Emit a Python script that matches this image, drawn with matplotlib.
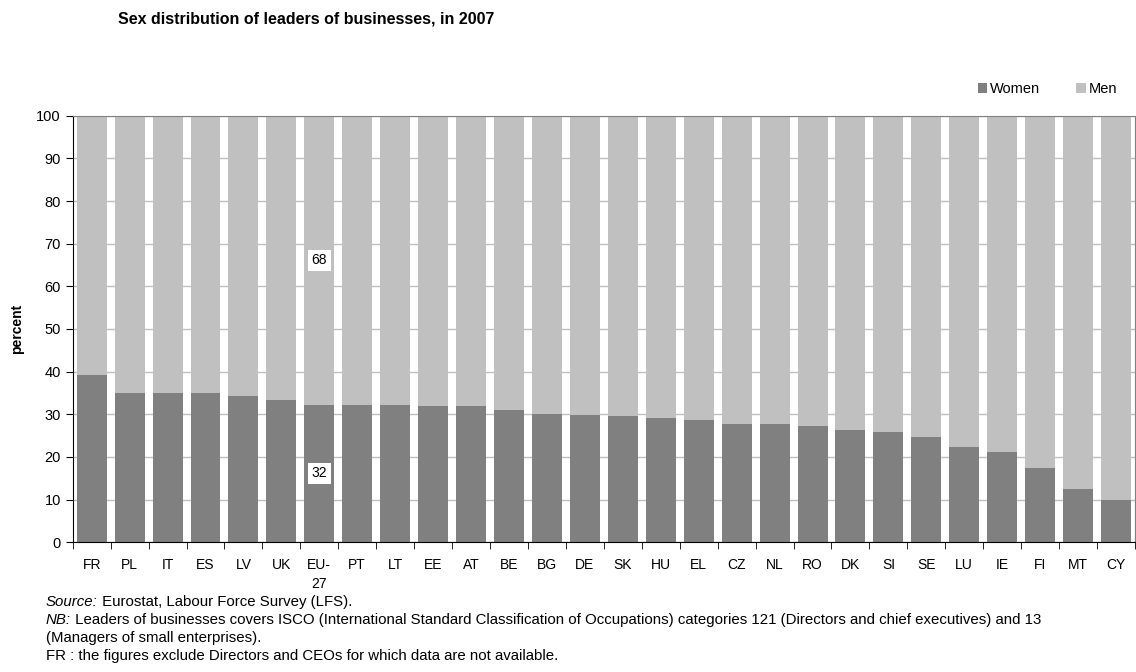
## Sex distribution of leaders of businesses, 2007
import matplotlib.pyplot as plt
import numpy as np

countries = ['FR', 'PL', 'IT', 'ES', 'LV', 'UK', 'EU-\n27', 'PT', 'LT', 'EE', 'AT', 'BE', 'BG', 'DE',
             'SK', 'HU', 'EL', 'CZ', 'NL', 'RO', 'DK', 'SI', 'SE', 'LU', 'IE', 'FI', 'MT', 'CY']
women = [39.1, 35.0, 35.0, 35.0, 34.3, 33.3, 32.3, 32.1, 32.1, 31.9, 31.9, 31.0, 30.0, 29.8,
         29.6, 29.1, 28.6, 27.7, 27.7, 27.2, 26.3, 25.8, 24.7, 22.3, 21.1, 17.4, 12.5, 9.9]
men = [100 - w for w in women]

plt.rcParams['font.family'] = ['Liberation Sans', 'DejaVu Sans']

W, H = 1136, 672
fig = plt.figure(figsize=(W / 100, H / 100), dpi=100)
ax = fig.add_axes([72.7 / W, 1 - 542.3 / H, (1135 - 72.7) / W, (542.3 - 115.7) / H])

x = np.arange(len(countries))
ax.bar(x, women, width=0.79, color='#808080', label='Women', zorder=2)
ax.bar(x, men, width=0.79, bottom=women, color='#c0c0c0', label='Men', zorder=2)

# data labels for EU-27
eu = 6
ax.text(eu, women[eu] / 2, f'{round(women[eu])}', ha='center', va='center', fontsize=10,
        bbox=dict(facecolor='white', edgecolor='none', pad=2.5), zorder=3)
ax.text(eu, women[eu] + men[eu] / 2, f'{round(men[eu])}', ha='center', va='center', fontsize=10,
        bbox=dict(facecolor='white', edgecolor='none', pad=2.5), zorder=3)

ax.set_xlim(-0.5, len(countries) - 0.5)
ax.set_ylim(0, 100)
ax.set_yticks(range(0, 101, 10))
ax.yaxis.grid(True, color='#c0c0c0', linewidth=1, zorder=0)
ax.set_axisbelow(True)

ax.set_xticks(x)
ax.set_xticklabels(countries, fontsize=10)
for lab in ax.get_xticklabels():
    lab.set_linespacing(1.45)
ax.set_xticks(np.arange(-0.5, len(countries), 1), minor=True)
ax.tick_params(axis='x', which='major', length=0, pad=11)
ax.tick_params(axis='x', which='minor', length=5, direction='out', color='black')
ax.tick_params(axis='y', length=5, direction='out', labelsize=10.5)

ax.spines['left'].set_color('black')
ax.spines['bottom'].set_color('black')
ax.spines['top'].set_color('#808080')
ax.spines['right'].set_color('#808080')

ax.set_ylabel('percent', fontsize=10, fontweight='bold', labelpad=9)

fig.text(118 / W, 1 - 19 / H, 'Sex distribution of leaders of businesses, in 2007',
         fontsize=11.5, fontweight='bold', va='center', ha='left')

ax.legend(loc='lower right', bbox_to_anchor=(0.9886, 1.033), ncol=2, frameon=False, fontsize=10.5,
          handlelength=0.65, handleheight=0.65, handletextpad=0.2, columnspacing=2.45, borderaxespad=0)

# footnotes
fx = 46 / W
fs = 10.8


def footnote(y, head, body):
    if head:
        t = fig.text(fx, 1 - y / H, head, fontsize=fs, style='italic', va='center')
        ax.annotate(body, xy=(1, 0.5), xycoords=t, fontsize=fs, va='center', ha='left')
    else:
        fig.text(fx, 1 - y / H, body, fontsize=fs, va='center')


footnote(602, 'Source:', ' Eurostat, Labour Force Survey (LFS).')
footnote(620, 'NB:', ' Leaders of businesses covers ISCO (International Standard Classification of Occupations) '
         'categories 121 (Directors and chief executives) and 13')
footnote(638, None, '(Managers of small enterprises).')
footnote(656, None, 'FR : the figures exclude Directors and CEOs for which data are not available.')

fig.savefig('out.png', dpi=100)
